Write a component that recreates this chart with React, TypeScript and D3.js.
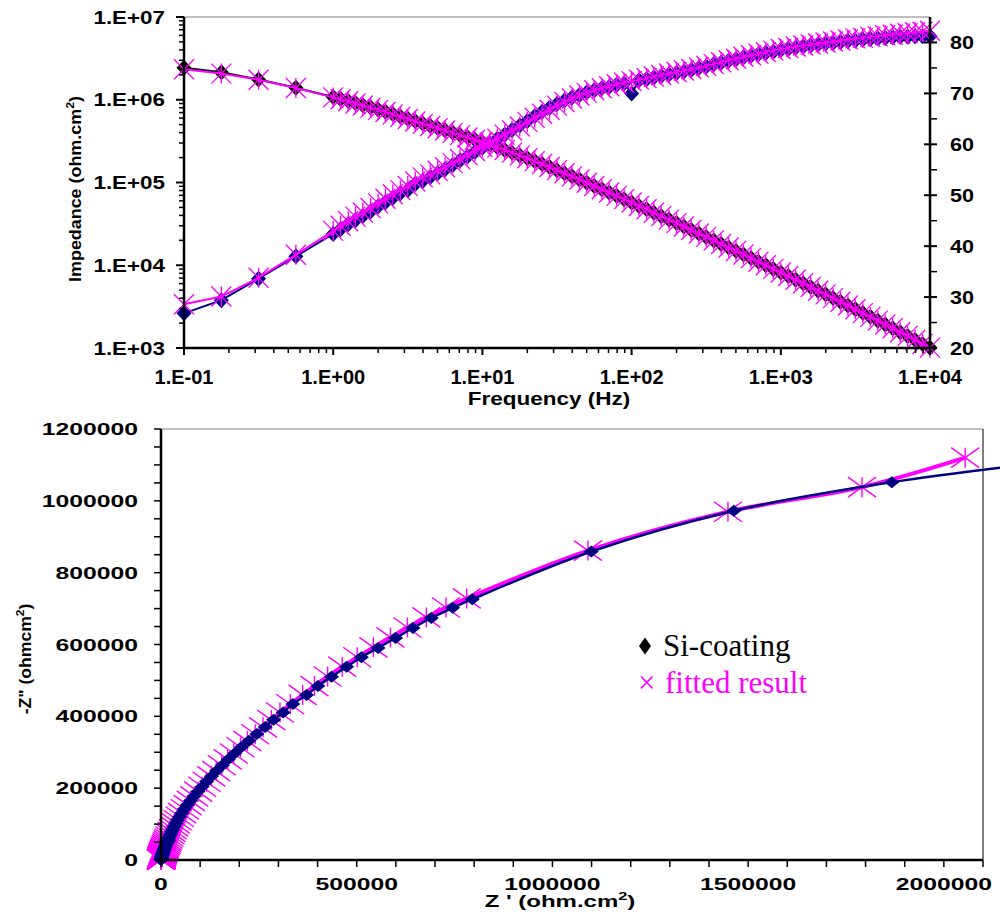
import React from "react";
import * as d3 from "d3";

// Frequencies (Hz)
const freq = [
  0.1, 0.178, 0.316, 0.562,
  1, 1.12, 1.26, 1.41, 1.58, 1.78, 2.0, 2.24, 2.51, 2.82, 3.16, 3.55, 3.98, 4.47, 5.01, 5.62, 6.31, 7.08, 7.94, 8.91,
  10, 11.2, 12.6, 14.1, 15.8, 17.8, 20.0, 22.4, 25.1, 28.2, 31.6, 35.5, 39.8, 44.7, 50.1, 56.2, 63.1, 70.8, 79.4, 89.1,
  100, 112, 126, 141, 158, 178, 200, 224, 251, 282, 316, 355, 398, 447, 501, 562, 631, 708, 794, 891,
  1000, 1122, 1259, 1413, 1585, 1778, 1995, 2239, 2512, 2818, 3162, 3548, 3981, 4467, 5012, 5623, 6310, 7079, 7943, 8913, 10000,
];

// |Z| measured (kohm.cm2)
const zModMeas = [
  2430, 2143, 1757, 1395,
  1077, 1024, 965, 912, 861, 810, 762, 717, 671, 629, 591, 550, 516,
  485, 456, 428, 401, 376, 352, 329, 307,
  286, 266.5, 247.5, 229.6, 212.7, 196.6, 181.4, 167.1, 153.8, 141.1,
  129.5, 118.7, 108.6, 99.4, 90.8, 82.9, 75.7, 69.0, 62.9, 57.2,
  52.1, 47.4, 43.1, 39.2, 35.6, 32.3, 29.4, 26.7, 24.2, 22.0, 19.9, 18.1, 16.4, 14.9, 13.5, 12.2, 11.0, 10.0, 9.04, 8.18,
  7.40, 6.69, 6.05, 5.46, 4.93, 4.45, 4.01, 3.62, 3.26, 2.94, 2.64, 2.38, 2.14, 1.92, 1.73, 1.55, 1.40, 1.25, 1.12, 1.01,
];

// phase measured (deg)
const phaseMeas = [
  26.8, 29.4, 33.6, 38.0,
  42.4, 43.3, 44.3, 45.1, 45.9, 46.8, 47.8, 48.6, 49.5, 50.4, 51.0, 52.2, 52.8,
  53.6, 54.3, 55.1, 55.9, 56.8, 57.6, 58.5, 59.3,
  60.2, 61.1, 61.9, 62.8, 63.7, 64.6, 65.5, 66.4, 67.2, 67.9,
  68.6, 69.2, 69.7, 70.2, 70.6, 71.0, 71.3, 71.7, 72.0, 70.0,
  72.6, 72.8, 73.1, 73.4, 73.7, 74.0, 74.3, 74.6, 75.0, 75.3, 75.7, 76.0, 76.4, 76.7, 77.1, 77.4, 77.7, 78.0, 78.2, 78.5,
  78.7, 79.0, 79.2, 79.4, 79.6, 79.8, 79.9, 80.1, 80.3, 80.4, 80.6, 80.7, 80.8, 80.9, 81.0, 81.1, 81.1, 81.2, 81.2, 81.2,
];

// |Z| fitted (kohm.cm2)
const zModFit = [
  2340, 2070, 1743, 1390,
  1068, 1012, 957, 903, 853, 803, 755, 710, 665, 623, 585, 545, 511,
  481, 452, 425, 398, 374, 350, 328, 306,
  285, 266, 247, 229.4, 212.6, 196.6, 181.4, 167.1, 153.8, 141.1,
  129.5, 118.7, 108.6, 99.4, 90.8, 82.9, 75.7, 69.0, 62.9, 57.2,
  52.1, 47.4, 43.1, 39.2, 35.6, 32.3, 29.4, 26.7, 24.2, 22.0, 19.9, 18.1, 16.4, 14.9, 13.5, 12.2, 11.0, 10.0, 9.04, 8.18,
  7.40, 6.69, 6.05, 5.46, 4.93, 4.45, 4.01, 3.62, 3.26, 2.94, 2.64, 2.38, 2.14, 1.92, 1.73, 1.55, 1.40, 1.25, 1.12, 1.01,
];

// phase fitted (deg)
const phaseFit = [
  28.6, 30.1, 33.8, 38.3,
  43.0, 44.0, 44.9, 45.8, 46.6, 47.5, 48.4, 49.3, 50.2, 51.0, 51.8, 52.7, 53.5,
  54.1, 54.8, 55.5, 56.3, 57.1, 57.9, 58.7, 59.5,
  60.3, 61.1, 61.9, 62.7, 63.5, 64.4, 65.2, 66.0, 66.8, 67.6,
  68.3, 69.0, 69.6, 70.1, 70.6, 71.0, 71.4, 71.8, 72.1, 72.4,
  72.7, 73.0, 73.3, 73.6, 73.9, 74.2, 74.5, 74.8, 75.1, 75.4, 75.8, 76.1, 76.5, 76.8, 77.2, 77.5, 77.8, 78.1, 78.4, 78.7,
  78.9, 79.2, 79.4, 79.6, 79.8, 80.0, 80.2, 80.4, 80.6, 80.8, 80.9, 81.1, 81.2, 81.4, 81.5, 81.7, 81.8, 82.0, 82.1, 82.3,
];

// ticks
const freqTicks = [0.1, 1, 10, 100, 1000, 10000];
const freqTickLabels = ["1.E-01", "1.E+00", "1.E+01", "1.E+02", "1.E+03", "1.E+04"];
const zTicks = [1e3, 1e4, 1e5, 1e6, 1e7];
const zTickLabels = ["1.E+03", "1.E+04", "1.E+05", "1.E+06", "1.E+07"];
const phaseTicks = [20, 30, 40, 50, 60, 70, 80];
const nyqXTicks = [0, 500000, 1000000, 1500000, 2000000];
const nyqYTicks = [0, 200000, 400000, 600000, 800000, 1000000, 1200000];

const ARIAL = "'Liberation Sans', Arial, sans-serif";
const TIMES = "'Liberation Serif', 'Times New Roman', serif";
const NAVY = "#000080";
const MAG = "#FF00FF";

function T({ x, y, sx = 1, anchor = "middle", size = 16, weight = "bold", fill = "#000", family = ARIAL, rotate = 0, children }: any) {
  return (
    <text
      transform={`translate(${x},${y})${rotate ? ` rotate(${rotate})` : ""} scale(${sx},1)`}
      textAnchor={anchor}
      fontSize={size}
      fontWeight={weight}
      fill={fill}
      fontFamily={family}
    >
      {children}
    </text>
  );
}

const star = (a: number, b: number) => `M${-a},${-b}L${a},${b}M${-a},${b}L${a},${-b}M0,${-b}L0,${b}`;
const diamond = (w: number, h: number) => `M0,${-h}L${w},0L0,${h}L${-w},0Z`;

export default function App() {
  // Bode scales
  const fx = d3.scaleLog().domain([0.1, 1e4]).range([184, 930]);
  const fyZ = d3.scaleLog().domain([1e3, 1e7]).range([348, 17]);
  const fyP = d3.scaleLinear().domain([20, 85]).range([348, 17]);

  // Nyquist scales
  const nx = d3.scaleLinear().domain([0, 2.1e6]).range([161, 983]);
  const ny = d3.scaleLinear().domain([0, 1.2e6]).range([860, 429]);

  const idx = freq.map((_, i) => i);
  const zLine = (arr: number[]) =>
    d3.line<number>().x((i) => fx(freq[i])).y((i) => fyZ(arr[i] * 1000))(idx) as string;
  const pLine = (arr: number[]) =>
    d3.line<number>().x((i) => fx(freq[i])).y((i) => fyP(arr[i]))(idx) as string;

  const nyq = (zm: number[], ph: number[]) =>
    idx.map((i) => {
      const r = zm[i] * 1000;
      const a = (ph[i] * Math.PI) / 180;
      return [r * Math.cos(a), r * Math.sin(a)] as [number, number];
    });
  const nyqMeas = nyq(zModMeas, phaseMeas);
  const nyqFit = nyq(zModFit, phaseFit);
  const nLine = d3
    .line<[number, number]>()
    .x((d) => nx(d[0]))
    .y((d) => ny(d[1]))
    .curve(d3.curveCatmullRom.alpha(0.5));

  // minor ticks
  const logMinor = (lo: number, hi: number) => {
    const out: number[] = [];
    for (let e = lo; e < hi; e++) for (let m = 2; m <= 9; m++) out.push(m * Math.pow(10, e));
    return out;
  };
  const freqMinor = logMinor(-1, 4);
  const zMinor = logMinor(3, 7);
  const phaseMinor = d3.range(25, 85, 10);
  const nyqXMinor = d3.range(0, 2100001, 100000);
  const nyqYMinor = d3.range(0, 1200001, 50000);

  return (
    <svg
      width={1000}
      height={922}
      style={{ position: "absolute", left: 0, top: 0, background: "#fff" }}
    >
      <rect x={0} y={0} width={1000} height={922} fill="#fff" />

      {/* ================= BODE ================= */}
      <line x1={184} x2={930} y1={17} y2={17} stroke="#808080" strokeWidth={1} />

      {/* measured |Z| */}
      <path d={zLine(zModMeas)} fill="none" stroke="#000" strokeWidth={2} />
      {idx.map((i) => (
        <path key={"zm" + i} d={diamond(7.5, 8)} transform={`translate(${fx(freq[i])},${fyZ(zModMeas[i] * 1000)})`} fill="#000" />
      ))}
      {/* measured phase */}
      <path d={pLine(phaseMeas)} fill="none" stroke={NAVY} strokeWidth={2} />
      {idx.map((i) => (
        <path key={"pm" + i} d={diamond(7.5, 8)} transform={`translate(${fx(freq[i])},${fyP(phaseMeas[i])})`} fill={NAVY} />
      ))}
      {/* fitted */}
      <path d={zLine(zModFit)} fill="none" stroke={MAG} strokeWidth={2} />
      <path d={pLine(phaseFit)} fill="none" stroke={MAG} strokeWidth={2} />
      {idx.map((i) => (
        <path key={"zf" + i} d={star(10, 10)} transform={`translate(${fx(freq[i])},${fyZ(zModFit[i] * 1000)})`} stroke={MAG} strokeWidth={1.3} fill="none" />
      ))}
      {idx.map((i) => (
        <path key={"pf" + i} d={star(10, 10)} transform={`translate(${fx(freq[i])},${fyP(phaseFit[i])})`} stroke={MAG} strokeWidth={1.3} fill="none" />
      ))}

      {/* axes */}
      <line x1={184} x2={184} y1={17} y2={349} stroke="#000" strokeWidth={2.5} />
      <line x1={183} x2={931} y1={348} y2={348} stroke="#000" strokeWidth={2.5} />
      <line x1={930} x2={930} y1={17} y2={349} stroke="#000" strokeWidth={2.5} />

      {zTicks.map((t) => (
        <line key={"zt" + t} x1={176} x2={184} y1={fyZ(t)} y2={fyZ(t)} stroke="#000" strokeWidth={2} />
      ))}
      {zMinor.map((t) => (
        <line key={"zmi" + t} x1={179} x2={184} y1={fyZ(t)} y2={fyZ(t)} stroke="#000" strokeWidth={1.5} />
      ))}
      {zTicks.map((t, i) => (
        <T key={"ztl" + t} x={165} y={fyZ(t) + 6.5} anchor="end" size={17.5} sx={1.28}>{zTickLabels[i]}</T>
      ))}

      {freqTicks.map((t) => (
        <line key={"ft" + t} x1={fx(t)} x2={fx(t)} y1={348} y2={355} stroke="#000" strokeWidth={2} />
      ))}
      {freqMinor.map((t) => (
        <line key={"fmi" + t} x1={fx(t)} x2={fx(t)} y1={348} y2={353} stroke="#000" strokeWidth={1.5} />
      ))}
      {freqTicks.map((t, i) => (
        <T key={"ftl" + t} x={fx(t)} y={384} size={20}>{freqTickLabels[i]}</T>
      ))}

      {phaseTicks.map((t) => (
        <line key={"pt" + t} x1={924} x2={937} y1={fyP(t)} y2={fyP(t)} stroke="#000" strokeWidth={2} />
      ))}
      {phaseMinor.map((t) => (
        <line key={"pmi" + t} x1={930} x2={937} y1={fyP(t)} y2={fyP(t)} stroke="#000" strokeWidth={1.5} />
      ))}
      {phaseTicks.map((t) => (
        <T key={"ptl" + t} x={950} y={fyP(t) + 6.5} anchor="start" size={18} sx={1.2}>{String(t)}</T>
      ))}

      <T x={549} y={405} size={18} sx={1.25}>Frequency (Hz)</T>
      <T x={81} y={189} size={16} sx={1.12} rotate={-90}>
        Impedance (ohm.cm
        <tspan dy={-7} fontSize={11}>2</tspan>
        <tspan dy={7}>)</tspan>
      </T>

      {/* ================= NYQUIST ================= */}
      <line x1={161} x2={983} y1={429} y2={429} stroke="#808080" strokeWidth={1} />
      <line x1={983} x2={983} y1={429} y2={860} stroke="#000" strokeWidth={1} />

      {/* fit */}
      <path d={nLine(nyqFit) as string} fill="none" stroke={MAG} strokeWidth={4} />
      {nyqFit.map((d, i) => (
        <path key={"nf" + i} d={star(14, 10)} transform={`translate(${nx(d[0])},${ny(d[1])})`} stroke={MAG} strokeWidth={1.4} fill="none" />
      ))}
      {/* measured */}
      <path d={nLine(nyqMeas) as string} fill="none" stroke={NAVY} strokeWidth={2.5} />
      {nyqMeas.map((d, i) => (
        <path key={"nm" + i} d={diamond(7.5, 6)} transform={`translate(${nx(d[0])},${ny(d[1])})`} fill={NAVY} />
      ))}

      <line x1={161} x2={161} y1={429} y2={861} stroke="#000" strokeWidth={2.5} />
      <line x1={160} x2={983} y1={860} y2={860} stroke="#000" strokeWidth={2.5} />
      {nyqYMinor.map((t) => (
        <line key={"nym" + t} x1={154} x2={161} y1={ny(t)} y2={ny(t)} stroke="#000" strokeWidth={1.5} />
      ))}
      {nyqXMinor.map((t) => (
        <line key={"nxm" + t} x1={nx(t)} x2={nx(t)} y1={860} y2={867} stroke="#000" strokeWidth={1.5} />
      ))}
      {nyqYTicks.map((t) => (
        <T key={"nyl" + t} x={138} y={ny(t) + 6} anchor="end" size={16.5} sx={1.5}>{String(t)}</T>
      ))}
      {nyqXTicks.map((t) => (
        <T key={"nxl" + t} x={nx(t)} y={890} size={16.5} sx={1.5}>{String(t)}</T>
      ))}

      <T x={560} y={907} size={16} sx={1.5}>
        Z ' (ohm.cm
        <tspan dy={-7} fontSize={11}>2</tspan>
        <tspan dy={7}>)</tspan>
      </T>
      <T x={31} y={659} size={16} sx={1.1} rotate={-90}>
        -Z" (ohmcm
        <tspan dy={-7} fontSize={11}>2</tspan>
        <tspan dy={7}>)</tspan>
      </T>

      {/* legend */}
      <path d={diamond(6, 8.5)} transform="translate(645,646)" fill="#000" />
      <T x={663} y={656} anchor="start" size={31} weight="normal" family={TIMES}>Si-coating</T>
      <T x={638} y={693} anchor="start" size={31} weight="normal" family={TIMES} fill={MAG}>×</T>
      <T x={665} y={693} anchor="start" size={31} weight="normal" family={TIMES} fill={MAG}>fitted result</T>
    </svg>
  );
}
